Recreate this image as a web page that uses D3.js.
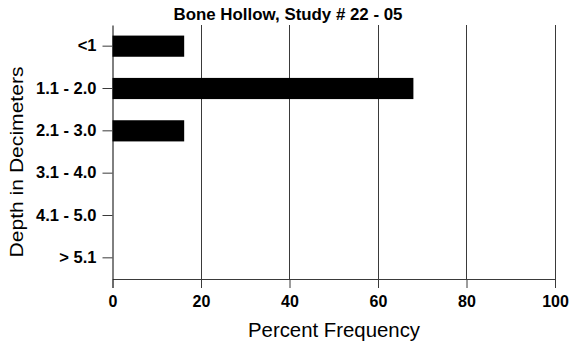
<!DOCTYPE html>
<html><head><meta charset="utf-8">
<script src="https://cdn.jsdelivr.net/npm/d3@7/dist/d3.min.js"></script>
<style>body{margin:0;background:#fff}svg{display:block;font-family:"Liberation Sans",Arial,sans-serif}</style>
</head><body><svg id="c" width="569" height="343"></svg>
<script>
const categories = ["<1", "1.1 - 2.0", "2.1 - 3.0", "3.1 - 4.0", "4.1 - 5.0", "> 5.1"];
const values = [16.2, 68, 16.2, 0, 0, 0];
const xTicks = [0, 20, 40, 60, 80, 100];
const title = "Bone Hollow, Study # 22 - 05";
const xTitle = "Percent Frequency";
const yTitle = "Depth in Decimeters";

const svg = d3.select("#c");
const m = {l: 112.5, r: 555, t: 25, b: 279};
const x = d3.scaleLinear().domain([0, 100]).range([m.l, m.r]);
const y = d3.scaleBand().domain(categories).range([m.t, m.b]).paddingInner(0.5).paddingOuter(0.25);

// gridlines
svg.append("g").selectAll("line").data(xTicks.filter(d => d > 0)).join("line")
  .attr("x1", d => x(d)).attr("x2", d => x(d)).attr("y1", m.t).attr("y2", m.b)
  .attr("stroke", "#3a3a3a").attr("stroke-width", 1).attr("shape-rendering", "crispEdges");

// bars
svg.append("g").selectAll("rect").data(categories.map((c, i) => ({c, v: values[i]}))).join("rect")
  .attr("x", x(0)).attr("y", d => y(d.c)).attr("width", d => x(d.v) - x(0)).attr("height", y.bandwidth())
  .attr("fill", "#000");

// x axis
const xa = svg.append("g").attr("transform", `translate(0,${m.b})`)
  .call(d3.axisBottom(x).tickValues(xTicks).tickSize(9).tickPadding(8));
xa.select(".domain").attr("stroke", "#3a3a3a");
xa.selectAll(".tick line").attr("stroke", "#3a3a3a");
xa.selectAll("text").attr("font-size", 16).attr("font-weight", "bold").attr("fill", "#000")
  .attr("font-family", "Liberation Sans, Arial, sans-serif");

// y axis
const ya = svg.append("g").attr("transform", `translate(${m.l},0)`)
  .call(d3.axisLeft(y).tickSize(10).tickPadding(6).tickSizeOuter(0));
ya.select(".domain").attr("stroke", "#000");
ya.selectAll(".tick line").attr("stroke", "#3a3a3a");
ya.selectAll("text").attr("font-size", 16.5).attr("font-weight", "bold").attr("fill", "#000")
  .attr("font-family", "Liberation Sans, Arial, sans-serif");

svg.append("text").attr("x", 288).attr("y", 20).attr("text-anchor", "middle")
  .attr("font-size", 16.5).attr("font-weight", "bold")
  .attr("textLength", 229).attr("lengthAdjust", "spacingAndGlyphs").text(title);
svg.append("text").attr("x", 334).attr("y", 337).attr("text-anchor", "middle")
  .attr("font-size", 19.5).attr("textLength", 172).attr("lengthAdjust", "spacingAndGlyphs").text(xTitle);
svg.append("text").attr("transform", "translate(23,162) rotate(-90)").attr("text-anchor", "middle")
  .attr("font-size", 19).attr("textLength", 191).attr("lengthAdjust", "spacingAndGlyphs").text(yTitle);
</script></body></html>
